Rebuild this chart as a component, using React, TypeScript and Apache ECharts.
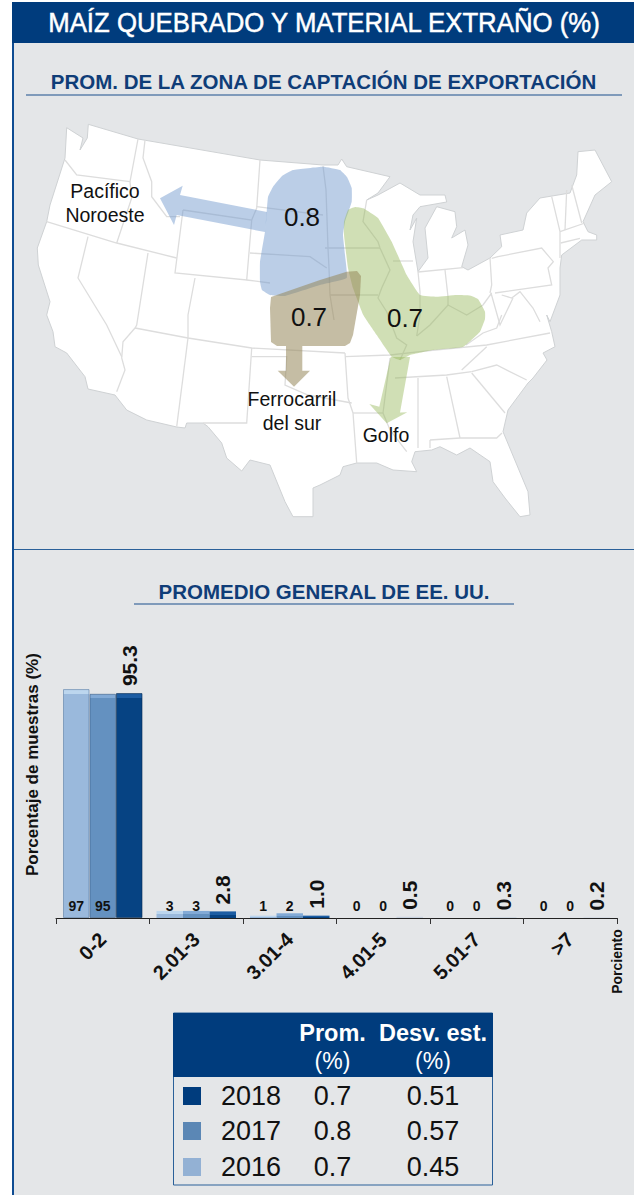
import React, { useEffect, useRef } from "react";
import * as echarts from "echarts";

const categories = ["0-2", "2.01-3", "3.01-4", "4.01-5", "5.01-7", ">7"];
const values2016 = [97, 3, 1, 0, 0, 0];
const values2017 = [95, 3, 2, 0, 0, 0];
const values2018 = [95.3, 2.8, 1.0, 0.5, 0.3, 0.2];
const tableYears = ["2018", "2017", "2016"];
const tableMeans = ["0.7", "0.8", "0.7"];
const tableStd = ["0.51", "0.57", "0.45"];
const swatches = ["#003c7d", "#5b87b5", "#93b1d4"];

const SANS = "'Liberation Sans', Arial, sans-serif";
const NAVY = "#003c7d";

const usOutline = [
  [66.7,127.7],[83,138],[80,150],[87.3,138],[88.3,124.3],[138,139],[260,160],[323,165],[338,165],[341.7,159],[346.7,166.7],[390,176.7],[378,193],[366.7,200],[378,195],[400,183],[420,195],[445,195],[446.7,202],[420,206.7],[413,215],[410,230],[416.7,218],[413,241.7],[418,271.7],[428,258],[425,228],[436.7,206.7],[455,211.7],[456.7,226.7],[451.7,238],[465,230],[468,245],[461.7,266.7],[468,270],[490,258],[501.7,246.7],[500,235],[523,230],[526.7,213],[540,198],[570,193],[576.7,175],[578,151.7],[595,150],[611.7,181.7],[595,195],[583,221.7],[588,231.7],[596.7,235],[596.7,240],[581.7,240],[561.7,255],[560,268],[560,295],[550,321.7],[546.7,315],[551.7,331.7],[555,346.7],[543,353],[547,360],[533,378],[528,383],[508,410],[503,431.7],[528,491.7],[530,515],[520,516.7],[505,498],[493,481.7],[490,461.7],[470,448],[456.7,455],[440,446.7],[431.7,450],[415,451.7],[411.7,461.7],[416.7,471.7],[393,470],[376.7,463],[356.7,463],[343,466.7],[340,475],[320,485],[313,488],[313,516.7],[293,516.7],[285,501.7],[270,465],[250,460],[241.7,471],[226.7,458],[221.7,443],[208,426.7],[203,423],[186.7,423],[185,428],[176.7,427],[146.7,420],[126.7,410],[115,395],[88,389],[85,376.7],[66.7,353],[55,346.7],[53,331.7],[46.7,315],[50,301.7],[38.3,265],[37.3,248],[46.7,221.7],[50,205],[65,158],
];

const stateLines = [
  [[65,160],[76.7,175],[130,181.7]],
  [[138,139],[130,181.7],[131.7,198],[116.7,243]],
  [[46.7,221.7],[116.7,243],[176.7,258]],
  [[145,140],[143,158],[151.7,181.7],[151.7,196.7],[166.7,216.7],[180,216.7]],
  [[183,210],[251.7,220],[246.7,280],[175,273],[183,210]],
  [[260,160],[256.7,208],[251.7,220]],
  [[256.7,206.7],[323,215]],
  [[250,253],[310,256.7],[326.7,268]],
  [[195,278],[188,315],[188,338]],
  [[246.7,280],[270,283]],
  [[88,236.7],[78,278],[106.7,325],[121.7,356.7]],
  [[148,253],[136.7,325],[135,328.3]],
  [[135,328],[188,338],[251.7,348],[345,353]],
  [[135,328],[123,341.7],[121.7,358],[125,370],[116.7,391.7]],
  [[188,338],[176.7,426.7]],
  [[251.7,348],[246.7,423],[203,423]],
  [[251.7,356.7],[286.7,356.7],[285,385],[308,395],[351.7,403]],
  [[345,353],[348,398],[353,413],[356.7,463]],
  [[353,413],[383,413]],
  [[345,356.7],[390,355],[420,351.7],[486.7,345],[550,333]],
  [[395,378],[446.7,375],[471.7,371.7]],
  [[461.7,370],[486.7,346.7]],
  [[471.7,371.7],[496.7,365],[526.7,380]],
  [[471.7,373],[505,413]],
  [[418,378],[418,448]],
  [[446.7,376.7],[460,438]],
  [[430,440],[460,438],[496.7,438],[502,433]],
  [[430,440],[430,448]],
  [[383,413],[390,430],[406.7,451.7]],
  [[390,358],[383,413]],
  [[325,248],[380,248]],
  [[366.7,200],[363,221.7],[378,241.7],[380,248],[390,270],[381.7,288],[378,298],[386.7,311.7],[396.7,338],[406.7,345],[400,360]],
  [[323,166],[326,190],[328,248],[329,268],[330,295],[334,320]],
  [[330,295],[378,295]],
  [[393,261],[413,261]],
  [[418,271.7],[420,291.7],[420,315],[416.7,336]],
  [[445,270],[448,296.7],[448,305]],
  [[418,272],[463,267.7]],
  [[490,258],[491.7,285],[490,293]],
  [[416.7,336],[430,325],[448,305],[466.7,315],[483,305],[491.7,293]],
  [[491.7,258.3],[498,256.7],[541.7,248],[553.3,261.7],[548,268],[551.7,285],[495,293]],
  [[551.7,196.7],[560,231.7],[560,258]],
  [[566.7,190],[565,230]],
  [[571.7,185],[581.7,223]],
  [[560,231.7],[585,223]],
  [[560.7,243],[580,238.3]],
  [[501.7,295],[511.7,298],[520,291.7],[533,308],[540,321.7]],
  [[491,293],[500,325],[513,298]],
  [[501.7,315],[496.7,328],[483,333],[466,345]],
];

const blueZone = [[323,166.7],[340,170],[347,177],[351.7,188],[351.7,201.7],[345,221.7],[343,235],[345,255],[346.7,278],[320,285],[285,296],[270,295],[262,290],[260,281.7],[260,261.7],[265,231.7],[266.7,211.7],[268,197],[273,186.7],[282,176],[293,170]];
const blueArrow = [[160,198.3],[182.7,185.7],[180,195],[267,212],[265,232],[176.7,215],[174,225]];
const tanZone = [[346.7,271.7],[357,271],[361,276],[360,295],[353,335],[350,343],[345,346],[277,346],[271,342],[270,308],[271,297],[320,280]];
const tanArrow = [[286,346],[302.3,346],[302.3,370.7],[310,370.7],[294,386.7],[277.7,370.7],[286,370.7]];
const greenZone = [[348,210],[355,207],[363.3,208.3],[378,218],[391.7,241.7],[406.7,275],[420,295],[436.7,296.7],[456.7,295],[470,295.5],[478,299],[485,311.7],[485,319],[480,331.7],[463.3,346.7],[433,350],[410,355],[400,360],[391.7,356.7],[376.7,335],[363.3,315],[353,288],[348,268],[344,235],[344,221.7]];
const greenArrow = [[390.7,357],[410,357],[400,412.5],[407.3,412.3],[386.7,423.3],[369.3,404],[379.3,406.7]];

const BLUE_FILL = "rgba(110,150,205,0.47)";
const TAN_FILL = "rgba(150,135,90,0.55)";
const GREEN_FILL = "rgba(150,185,90,0.45)";

function txt(text: string, x: number, y: number, fontSize: number, opts: any = {}) {
  const { rotation, scaleX, ...style } = opts;
  return {
    type: "text", x, y, rotation: rotation || 0, scaleX: scaleX || 1, z: 20,
    style: { text, fontSize, fontFamily: SANS, fill: "#111", align: "center", verticalAlign: "middle", ...style },
  };
}

function bar(v: number, base: string, cap: string, edge: string) {
  const h = v * 2.36;
  const stop = Math.min(4 / Math.max(h, 0.1), 0.5);
  const faint = "#c9d3df";
  return {
    value: v,
    itemStyle: {
      color: v < 1 ? faint : { type: "linear", x: 0, y: 0, x2: 0, y2: 1, colorStops: [
        { offset: 0, color: cap }, { offset: stop, color: cap }, { offset: stop, color: base }, { offset: 1, color: base },
      ] },
      borderColor: edge,
      borderWidth: v > 50 ? 1 : 0,
    },
  };
}

function buildGraphics() {
  const els: any[] = [];
  els.push({ type: "rect", shape: { x: 13, y: 2, width: 621, height: 1193 }, style: { fill: "#e4e6e8" }, z: 0 });
  els.push({ type: "rect", shape: { x: 12, y: 2, width: 2, height: 1193 }, style: { fill: "#0f4c92" }, z: 1 });
  els.push({ type: "rect", shape: { x: 12, y: 2, width: 622, height: 41 }, style: { fill: NAVY }, z: 1 });
  els.push(txt("MAÍZ QUEBRADO Y MATERIAL EXTRAÑO (%)", 324, 23, 27, { fill: "#fff", scaleX: 0.955, stroke: "#fff", lineWidth: 0.5 }));
  els.push(txt("PROM. DE LA ZONA DE CAPTACIÓN DE EXPORTACIÓN", 323.5, 81, 20.5, { fill: "#0f3d78", fontWeight: "bold" }));
  els.push({ type: "rect", shape: { x: 26, y: 94.5, width: 596, height: 1 }, style: { fill: "#1a4f8c" }, z: 1 });
  els.push({ type: "rect", shape: { x: 14, y: 549, width: 620, height: 1 }, style: { fill: "#2a6099" }, z: 1 });
  els.push(txt("PROMEDIO GENERAL DE EE. UU.", 324, 591, 20.5, { fill: "#0f3d78", fontWeight: "bold" }));
  els.push({ type: "rect", shape: { x: 134, y: 603.5, width: 380, height: 1 }, style: { fill: "#1a4f8c" }, z: 1 });

  els.push({ type: "polygon", shape: { points: usOutline }, style: { fill: "#fff", stroke: "#cfd2d4", lineWidth: 1 }, z: 2 });
  stateLines.forEach((points) => els.push({ type: "polyline", shape: { points }, style: { fill: "none", stroke: "#dddddd", lineWidth: 1.3 }, z: 3 }));
  els.push({ type: "polygon", shape: { points: blueZone, smooth: 0.1 }, style: { fill: BLUE_FILL }, z: 4 });
  els.push({ type: "polygon", shape: { points: blueArrow }, style: { fill: BLUE_FILL }, z: 4 });
  els.push({ type: "polygon", shape: { points: greenZone, smooth: 0.1 }, style: { fill: GREEN_FILL }, z: 5 });
  els.push({ type: "polygon", shape: { points: greenArrow }, style: { fill: GREEN_FILL }, z: 5 });
  els.push({ type: "polygon", shape: { points: tanZone }, style: { fill: TAN_FILL }, z: 6 });
  els.push({ type: "polygon", shape: { points: tanArrow }, style: { fill: TAN_FILL }, z: 6 });

  els.push(txt("Pacífico", 105, 191, 19.5));
  els.push(txt("Noroeste", 105, 215, 19.5));
  els.push(txt("0.8", 302, 217, 26));
  els.push(txt("0.7", 309, 317, 26));
  els.push(txt("0.7", 405, 318, 26));
  els.push(txt("Ferrocarril", 292, 399, 19.5));
  els.push(txt("del sur", 292, 423, 19.5));
  els.push(txt("Golfo", 386, 435, 19.5));

  els.push(txt("Porciento", 617, 961.5, 14, { rotation: Math.PI / 2, fontWeight: "bold" }));

  els.push({ type: "rect", shape: { x: 173.5, y: 1013, width: 319, height: 172 }, style: { fill: "transparent", stroke: "#2a6099", lineWidth: 1 }, z: 10 });
  els.push({ type: "rect", shape: { x: 173, y: 1013, width: 320, height: 64 }, style: { fill: NAVY }, z: 10 });
  els.push(txt("Prom.", 332.5, 1033, 23.5, { fill: "#fff", fontWeight: "bold" }));
  els.push(txt("(%)", 332.5, 1061, 23, { fill: "#fff" }));
  els.push(txt("Desv. est.", 433, 1033, 23.5, { fill: "#fff", fontWeight: "bold" }));
  els.push(txt("(%)", 433, 1061, 23, { fill: "#fff" }));
  tableYears.forEach((year, i) => {
    const y = [1096, 1131, 1167][i];
    els.push({ type: "rect", shape: { x: 183, y: y - 9, width: 18, height: 18 }, style: { fill: swatches[i] }, z: 11 });
    els.push(txt(year, 221, y, 27, { align: "left" }));
    els.push(txt(tableMeans[i], 332.5, y, 27));
    els.push(txt(tableStd[i], 433, y, 27));
  });
  return els;
}

const smallLabel = {
  show: true, position: "insideBottom" as const, distance: 5, color: "#111",
  fontFamily: SANS, fontWeight: "bold" as const, fontSize: 14,
};

export default function App() {
  const ref = useRef<HTMLDivElement>(null);
  useEffect(() => {
    document.body.style.margin = "0";
    const chart = echarts.init(ref.current!, null, { renderer: "svg" });
    chart.setOption({
      animation: false,
      backgroundColor: "#fff",
      textStyle: { fontFamily: SANS },
      grid: { left: 56, right: 17, bottom: 277, top: 611.2 },
      xAxis: {
        type: "category",
        data: categories,
        z: 15,
        axisLine: { lineStyle: { color: "#222", width: 1 } },
        axisTick: { show: true, length: 6, lineStyle: { color: "#333" } },
        axisLabel: { rotate: 45, interval: 0, margin: 18, color: "#111", fontSize: 20, fontWeight: "bold", fontFamily: SANS },
      },
      yAxis: {
        type: "value", min: 0, max: 130,
        name: "Porcentaje de muestras (%)",
        nameLocation: "middle", nameGap: 15,
        nameTextStyle: { color: "#111", fontWeight: "bold", fontSize: 17, fontFamily: SANS },
        axisLine: { show: false }, axisTick: { show: false }, axisLabel: { show: false }, splitLine: { show: false },
      },
      series: [
        { name: "2016", type: "bar", barWidth: 26.5, barGap: "0%", z: 5,
          data: values2016.map((v) => bar(v, "#9ab9dc", "#bcd6ee", "rgba(90,125,165,0.6)")), label: smallLabel },
        { name: "2017", type: "bar", barWidth: 26.5, barGap: "0%", z: 5,
          data: values2017.map((v) => bar(v, "#6491c0", "#82aad6", "rgba(60,95,135,0.6)")), label: smallLabel },
        { name: "2018", type: "bar", barWidth: 26.5, barGap: "0%", z: 5,
          data: values2018.map((v) => bar(v, "#064383", "#1c5da3", "rgba(4,40,80,0.6)")),
          label: {
            show: true, position: "top", distance: 7, rotate: 90, align: "left", verticalAlign: "middle",
            color: "#111", fontFamily: SANS, fontWeight: "bold", fontSize: 21,
            formatter: (p: any) => Number(p.value).toFixed(1),
          } },
      ],
      graphic: { elements: buildGraphics() },
    });
    return () => chart.dispose();
  }, []);
  return <div ref={ref} style={{ width: 634, height: 1195 }} />;
}
